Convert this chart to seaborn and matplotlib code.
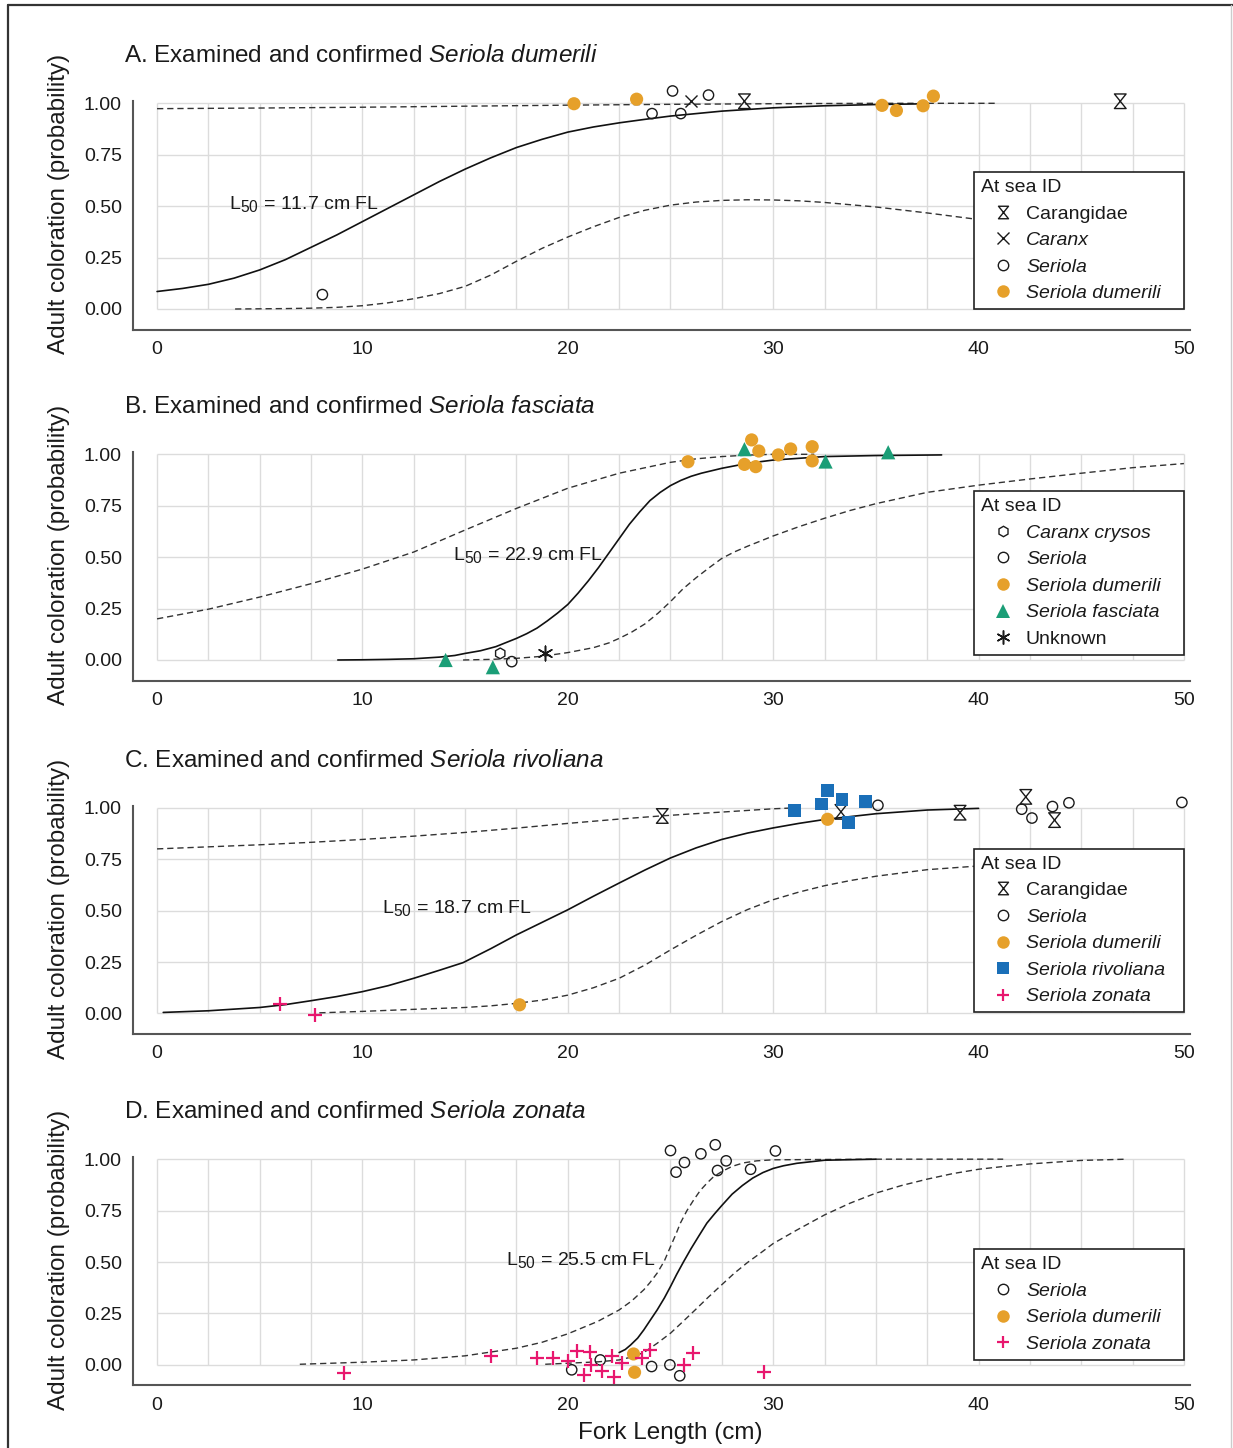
import numpy as np
import pandas as pd
import matplotlib
matplotlib.use('Agg')
import matplotlib.pyplot as plt
import matplotlib._mathtext as mathtext_mod
from matplotlib.lines import Line2D
from matplotlib.path import Path
import seaborn as sns

# ---------------- panel A : Seriola dumerili ----------------
a_fit_x=[0, 1.25, 2.5, 3.75, 5, 6.25, 7.5, 8.75, 10, 11.25, 12.5, 13.75, 15, 16.25, 17.5, 18.75,
         20, 21.25, 22.5, 23.75, 25, 27.5, 30, 32.5, 35, 37]
a_fit_y=[0.085, 0.10, 0.12, 0.15, 0.19, 0.24, 0.30, 0.36, 0.425, 0.49, 0.555, 0.62, 0.68, 0.735, 0.785, 0.825,
         0.86, 0.885, 0.905, 0.922, 0.938, 0.962, 0.978, 0.988, 0.994, 0.997]
a_hi_x=[0, 5, 10, 15, 20, 25, 30, 35, 40.8]
a_hi_y=[0.974, 0.977, 0.981, 0.986, 0.991, 0.995, 0.998, 1.0, 1.0]
a_lo_x=[3.8, 5, 6.25, 7.5, 8.75, 10, 11.25, 12.5, 13.75, 15, 16.25, 17.5, 18.75, 20, 21.25, 22.5, 23.75,
        25, 26.25, 27.5, 28.75, 30, 31.25, 32.5, 35, 37.5, 40, 42.5, 45, 47.5, 50]
a_lo_y=[0.0, 0.001, 0.002, 0.004, 0.008, 0.016, 0.03, 0.05, 0.075, 0.11, 0.165, 0.232, 0.295, 0.35, 0.40, 0.445, 0.48,
        0.505, 0.52, 0.528, 0.531, 0.53, 0.526, 0.518, 0.496, 0.467, 0.435, 0.40, 0.37, 0.345, 0.32]
a_pt_id=['Carangidae', 'Carangidae', 'Caranx',
         'Seriola', 'Seriola', 'Seriola', 'Seriola', 'Seriola',
         'Seriola dumerili', 'Seriola dumerili', 'Seriola dumerili',
         'Seriola dumerili', 'Seriola dumerili', 'Seriola dumerili']
a_pt_x=[28.6, 46.9, 26.0, 25.1, 26.85, 24.1, 25.5, 8.05, 20.3, 23.35, 35.3, 36.0, 37.3, 37.8]
a_pt_y=[1.01, 1.01, 1.01, 1.06, 1.04, 0.95, 0.95, 0.07, 0.998, 1.02, 0.99, 0.965, 0.988, 1.035]

# ---------------- panel B : Seriola fasciata ----------------
b_fit_x=[8.8, 10, 11.25, 12.5, 13.75, 14.5, 15, 15.75, 16.5, 17, 17.5, 18, 18.5, 19, 19.5, 20, 20.5, 21,
         21.5, 22, 22.5, 23, 23.5, 24, 24.5, 25, 25.5, 26, 26.5, 27.5, 28.75, 30, 32.5, 35, 38.2]
b_fit_y=[0.0, 0.001, 0.003, 0.006, 0.014, 0.022, 0.032, 0.045, 0.065, 0.085, 0.105, 0.128, 0.155, 0.19, 0.228, 0.27, 0.325, 0.385,
         0.45, 0.52, 0.59, 0.66, 0.72, 0.775, 0.815, 0.848, 0.873, 0.893, 0.908, 0.932, 0.956, 0.972, 0.989, 0.994, 0.997]
b_hi_x=[0, 2.5, 5, 7.5, 10, 12.5, 15, 17.5, 20, 22.5, 25, 26.25, 27.5, 28.75, 30, 32]
b_hi_y=[0.20, 0.247, 0.306, 0.371, 0.442, 0.525, 0.632, 0.737, 0.835, 0.908, 0.961, 0.978, 0.989, 0.996, 1.0, 1.0]
b_lo_x=[14.9, 16.25, 17.5, 18.75, 20, 21.25, 22, 22.5, 23.1, 23.75, 24.4, 25, 25.6, 26.25, 26.9, 27.5, 28.1,
        28.75, 30, 31.25, 32.5, 33.75, 35, 37.5, 40, 42.5, 45, 47.5, 50]
b_lo_y=[0.0, 0.003, 0.008, 0.018, 0.036, 0.06, 0.083, 0.105, 0.135, 0.175, 0.228, 0.284, 0.345, 0.40, 0.45, 0.494, 0.525,
        0.553, 0.603, 0.648, 0.689, 0.727, 0.76, 0.815, 0.85, 0.88, 0.908, 0.935, 0.955]
b_pt_id=['Caranx crysos', 'Seriola'] + ['Seriola dumerili']*9 + ['Seriola fasciata']*5 + ['Unknown']
b_pt_x=[16.71, 17.27, 25.85, 28.95, 29.3, 28.6, 29.15, 30.25, 30.85, 31.9, 31.9,
        28.6, 32.55, 35.6, 14.05, 16.35, 18.89]
b_pt_y=[0.032, -0.008, 0.964, 1.07, 1.016, 0.951, 0.94, 0.997, 1.026, 1.037, 0.968,
        1.025, 0.965, 1.01, 0.0, -0.035, 0.036]

# ---------------- panel C : Seriola rivoliana ----------------
c_fit_x=[0.3, 2.5, 5, 6.25, 7.5, 8.75, 10, 11.25, 12.5, 13.75, 14.9, 16.25, 17.5, 18.75, 20, 21.25, 22.5,
         23.75, 25, 26.25, 27.5, 28.75, 30, 31.25, 32.5, 35, 37.5, 40]
c_fit_y=[0.005, 0.013, 0.029, 0.043, 0.062, 0.082, 0.106, 0.135, 0.171, 0.21, 0.247, 0.315, 0.382, 0.443, 0.504, 0.57, 0.634,
         0.697, 0.756, 0.805, 0.846, 0.877, 0.902, 0.924, 0.943, 0.971, 0.989, 0.997]
c_hi_x=[0, 2.5, 5, 7.5, 10, 12.5, 15, 17.5, 20, 22.5, 24.5, 26, 27.5, 30, 31.2]
c_hi_y=[0.80, 0.81, 0.82, 0.832, 0.846, 0.862, 0.88, 0.901, 0.924, 0.945, 0.96, 0.97, 0.979, 0.995, 1.0]
c_lo_x=[7.9, 10, 12.5, 15, 16.25, 17.5, 18.75, 20, 21.25, 22.5, 23.75, 25, 26.25, 27.5, 28.75, 30, 31.25,
        32.5, 33.75, 35, 37.5, 40, 42.5, 45, 47.5, 50]
c_lo_y=[0.003, 0.01, 0.02, 0.029, 0.037, 0.049, 0.065, 0.089, 0.125, 0.171, 0.235, 0.309, 0.38, 0.447, 0.505, 0.553, 0.59,
        0.621, 0.646, 0.667, 0.699, 0.717, 0.735, 0.75, 0.765, 0.78]
c_pt_id=['Carangidae']*5 + ['Seriola']*6 + ['Seriola dumerili']*2 + ['Seriola rivoliana']*6 + ['Seriola zonata']*2
c_pt_x=[24.6, 33.3, 39.1, 42.3, 43.7,
        35.1, 42.1, 42.6, 43.6, 44.4, 49.9,
        32.65, 17.65,
        31.05, 32.35, 32.65, 33.35, 33.65, 34.5,
        5.98, 7.69]
c_pt_y=[0.96, 0.98, 0.976, 1.053, 0.94,
        1.012, 0.993, 0.95, 1.006, 1.024, 1.026,
        0.944, 0.042,
        0.985, 1.018, 1.085, 1.042, 0.927, 1.03,
        0.047, -0.009]

# ---------------- panel D : Seriola zonata ----------------
d_fit_x=[22.5, 22.8, 23.06, 23.4, 23.7, 24.0, 24.35, 24.7, 25.0, 25.3, 25.64, 26.0, 26.4, 26.77, 27.15,
         27.5, 28.0, 28.5, 29.0, 29.5, 30.0, 30.5, 31.15, 32.5, 35]
d_fit_y=[0.06, 0.075, 0.097, 0.13, 0.17, 0.215, 0.267, 0.325, 0.381, 0.44, 0.502, 0.565, 0.63, 0.689, 0.735,
         0.775, 0.83, 0.872, 0.908, 0.935, 0.955, 0.968, 0.98, 0.995, 1.0]
d_hi_x=[6.95, 10, 12.5, 15, 17.5, 18.75, 20, 21.45, 22.5, 23.1, 23.7, 24.0, 24.35, 24.7, 25.0, 25.25, 25.48,
        25.8, 26.13, 26.45, 26.77, 27.1, 27.5, 28.0, 28.55, 29.2, 30, 35, 41.2]
d_hi_y=[0.003, 0.013, 0.024, 0.044, 0.081, 0.11, 0.151, 0.211, 0.267, 0.31, 0.365, 0.40, 0.446, 0.505, 0.575, 0.632, 0.689,
        0.75, 0.802, 0.848, 0.883, 0.915, 0.94, 0.965, 0.982, 0.992, 0.997, 1.0, 1.0]
d_lo_x=[18.9, 20, 21.5, 22.5, 23.1, 23.7, 24.35, 25.0, 25.6, 26.2, 26.85, 27.5, 28.1, 28.74, 29.4, 30, 31.16,
        32.5, 33.74, 35, 36.25, 37.5, 38.75, 40, 41.25, 42.5, 45, 47.2]
d_lo_y=[0.003, 0.008, 0.015, 0.024, 0.038, 0.06, 0.105, 0.154, 0.21, 0.267, 0.33, 0.39, 0.445, 0.497, 0.545, 0.59, 0.656,
        0.729, 0.786, 0.835, 0.872, 0.903, 0.93, 0.951, 0.965, 0.977, 0.994, 1.0]
d_pt_id=['Seriola']*14 + ['Seriola dumerili']*2 + ['Seriola zonata']*18
d_pt_x=[25.0, 25.68, 25.27, 26.48, 27.18, 27.71, 27.29, 28.9, 30.11, 20.19, 21.58, 24.08, 24.97, 25.45,
        23.2, 23.25,
        9.11, 16.26, 18.52, 19.27, 20.03, 20.45, 21.1, 21.13, 20.77, 21.65, 22.15, 22.26, 22.63, 23.6, 24.0, 25.65, 26.1, 29.55]
d_pt_y=[1.042, 0.984, 0.937, 1.026, 1.07, 0.992, 0.945, 0.951, 1.04, -0.024, 0.024, -0.008, 0.0, -0.053,
        0.053, -0.036,
        -0.04, 0.045, 0.032, 0.032, 0.019, 0.068, 0.065, -0.003, -0.049, -0.028, 0.044, -0.057, 0.008, 0.032, 0.073, 0.0, 0.057, -0.037]

panel_titles=['A. Examined and confirmed ', 'B. Examined and confirmed ',
              'C. Examined and confirmed ', 'D. Examined and confirmed ']
panel_species=['Seriola dumerili', 'Seriola fasciata', 'Seriola rivoliana', 'Seriola zonata']
l50_values=['11.7', '22.9', '18.7', '25.5']
legend_ids=[['Carangidae', 'Caranx', 'Seriola', 'Seriola dumerili'],
            ['Caranx crysos', 'Seriola', 'Seriola dumerili', 'Seriola fasciata', 'Unknown'],
            ['Carangidae', 'Seriola', 'Seriola dumerili', 'Seriola rivoliana', 'Seriola zonata'],
            ['Seriola', 'Seriola dumerili', 'Seriola zonata']]

# ---------------- styles ----------------
sns.set_style('white')
plt.rcParams['font.family']=['Liberation Sans', 'DejaVu Sans']
plt.rcParams['mathtext.fontset']='custom'
plt.rcParams['mathtext.rm']='Liberation Sans'
plt.rcParams['mathtext.it']='Liberation Sans:italic'
plt.rcParams['mathtext.bf']='Liberation Sans:bold'
# subscript in L50 is drawn a bit bigger than mathtext's default
if hasattr(mathtext_mod, 'SHRINK_FACTOR'):
    mathtext_mod.SHRINK_FACTOR=0.8

TXT='#1a1a1a'
ORANGE='#E6A02A'
GREEN='#1B9E77'
BLUE='#1A6FB8'
PINK='#E8176E'
hourglass=Path([(-0.8, 1), (0.8, 1), (-0.8, -1), (0.8, -1), (-0.8, 1)],
               [Path.MOVETO, Path.LINETO, Path.LINETO, Path.LINETO, Path.CLOSEPOLY])

# marker, size(pt^2), face, edge, edge width, legend markersize
mstyle={
    'Carangidae':       (hourglass, 110, 'none', TXT, 1.0, 9),
    'Caranx':           ('x', 75, TXT, TXT, 1.0, 8),
    'Caranx crysos':    ('h', 60, 'none', TXT, 1.0, 7.5),
    'Seriola':          ('o', 55, 'none', TXT, 1.0, 7.5),
    'Seriola dumerili': ('o', 90, ORANGE, 'none', 0, 9),
    'Seriola fasciata': ('^', 105, GREEN, 'none', 0, 9.5),
    'Seriola rivoliana':('s', 85, BLUE, 'none', 0, 9),
    'Seriola zonata':   ('+', 95, PINK, PINK, 1.6, 9),
    'Unknown':          ((6, 2, 0), 110, TXT, TXT, 1.1, 10),
}
italic_ids={'Caranx', 'Caranx crysos', 'Seriola', 'Seriola dumerili',
            'Seriola fasciata', 'Seriola rivoliana', 'Seriola zonata'}

fig=plt.figure(figsize=(12.33, 14.48), dpi=100)
bottoms=[0.7724, 0.5300, 0.2859, 0.0432]

panels=[
    (a_fit_x, a_fit_y, a_hi_x, a_hi_y, a_lo_x, a_lo_y, a_pt_id, a_pt_x, a_pt_y, 0.665),
    (b_fit_x, b_fit_y, b_hi_x, b_hi_y, b_lo_x, b_lo_y, b_pt_id, b_pt_x, b_pt_y, 0.82),
    (c_fit_x, c_fit_y, c_hi_x, c_hi_y, c_lo_x, c_lo_y, c_pt_id, c_pt_x, c_pt_y, 0.80),
    (d_fit_x, d_fit_y, d_hi_x, d_hi_y, d_lo_x, d_lo_y, d_pt_id, d_pt_x, d_pt_y, 0.561),
]
l50_x=[3.5, 14.4, 10.95, 17.0]

for i, (fx, fy, hx, hy, lx, ly, pid, px, py, leg_top) in enumerate(panels):
    ax=fig.add_axes([0.1079, bottoms[i], 0.8573, 0.1733])
    ax.set_xlim(-1.17, 50.3)
    ax.set_ylim(-0.1, 1.12)

    # grid only inside the data range
    ax.vlines(np.arange(0, 50.1, 2.5), 0, 1, color='#dcdcdc', lw=1.0, zorder=0)
    ax.hlines([0, 0.25, 0.5, 0.75, 1.0], 0, 50, color='#dcdcdc', lw=1.0, zorder=0)

    sns.lineplot(x=hx, y=hy, ax=ax, color='#333333', lw=1.0, linestyle=(0, (4.5, 2.8)),
                 sort=False, estimator=None, zorder=2)
    sns.lineplot(x=lx, y=ly, ax=ax, color='#333333', lw=1.0, linestyle=(0, (4.5, 2.8)),
                 sort=False, estimator=None, zorder=2)
    sns.lineplot(x=fx, y=fy, ax=ax, color='#111111', lw=1.2, sort=False, estimator=None, zorder=2)

    pts=pd.DataFrame({'id': pid, 'fl': px, 'p': py})
    for name in legend_ids[i]:
        sub=pts[pts['id']==name]
        m, s, fc, ec, lw, _=mstyle[name]
        if m in ('x', '+') or isinstance(m, tuple):
            sns.scatterplot(data=sub, x='fl', y='p', ax=ax, marker=m, s=s, color=fc,
                            linewidth=lw, legend=False, zorder=3)
        else:
            sns.scatterplot(data=sub, x='fl', y='p', ax=ax, marker=m, s=s, color=TXT,
                            facecolor=fc, edgecolor=ec, linewidth=lw, legend=False, zorder=3)

    ax.text(l50_x[i], 0.488, r'$\mathregular{L_{50}}$ = ' + l50_values[i] + ' cm FL',
            fontsize=14, color=TXT, va='baseline', ha='left', zorder=4)

    ax.text(-0.0085, 1.065, panel_titles[i] + r'$\mathit{' + panel_species[i].replace(' ', r'\ ') + '}$',
            transform=ax.transAxes, fontsize=17.5, color=TXT, va='baseline', ha='left')

    handles=[]
    for name in legend_ids[i]:
        m, s, fc, ec, lw, ms=mstyle[name]
        if m in ('x', '+') or isinstance(m, tuple):
            h=Line2D([], [], linestyle='none', marker=m, markersize=ms, color=fc,
                     markeredgewidth=max(lw, 1.0))
        else:
            h=Line2D([], [], linestyle='none', marker=m, markersize=ms, markerfacecolor=fc,
                     markeredgecolor=ec, markeredgewidth=lw)
        handles.append(h)
    leg=ax.legend(handles=handles, labels=legend_ids[i], title='At sea ID',
                  loc='upper left', bbox_to_anchor=(39.8, leg_top, 10.2, 0),
                  bbox_transform=ax.transData, mode='expand', borderaxespad=0,
                  fontsize=14, title_fontsize=14, alignment='left',
                  fancybox=False, framealpha=1, borderpad=0.35, labelspacing=0.46,
                  handlelength=2.2, handletextpad=0.1)
    leg.get_frame().set_edgecolor('#222222')
    leg.get_frame().set_linewidth(1.2)
    leg.set_zorder(5)
    for t in leg.get_texts():
        t.set_color(TXT)
        if t.get_text() in italic_ids:
            t.set_fontstyle('italic')
    leg.get_title().set_color(TXT)

    ax.set_xticks([0, 10, 20, 30, 40, 50])
    ax.set_yticks([0, 0.25, 0.5, 0.75, 1.0])
    ax.set_yticklabels(['0.00', '0.25', '0.50', '0.75', '1.00'])
    ax.tick_params(axis='both', length=0, pad=8, labelsize=14, labelcolor=TXT)
    sns.despine(ax=ax)
    for side in ('left', 'bottom'):
        ax.spines[side].set_color('#555555')
        ax.spines[side].set_linewidth(1.5)
    ax.spines['left'].set_bounds(-0.1, 1.01)

    ax.set_ylabel('Adult coloration (probability)', fontsize=17.5, color=TXT)
    ax.yaxis.set_label_coords(-0.06, 0.5)
    if i==3:
        ax.set_xlabel('Fork Length (cm)', fontsize=17.5, color=TXT)
        ax.xaxis.set_label_coords(0.5085, -0.145)
    else:
        ax.set_xlabel('')

# outer frame lines
fig.add_artist(Line2D([8/1233, 1], [1-5/1448, 1-5/1448], color='#333333', lw=1.6))
fig.add_artist(Line2D([8/1233, 8/1233], [0, 1-5/1448], color='#333333', lw=1.6))
fig.add_artist(Line2D([1231/1233, 1231/1233], [0, 1-5/1448], color='#cccccc', lw=1.0))

plt.savefig('out.png', dpi=100)
plt.close()
